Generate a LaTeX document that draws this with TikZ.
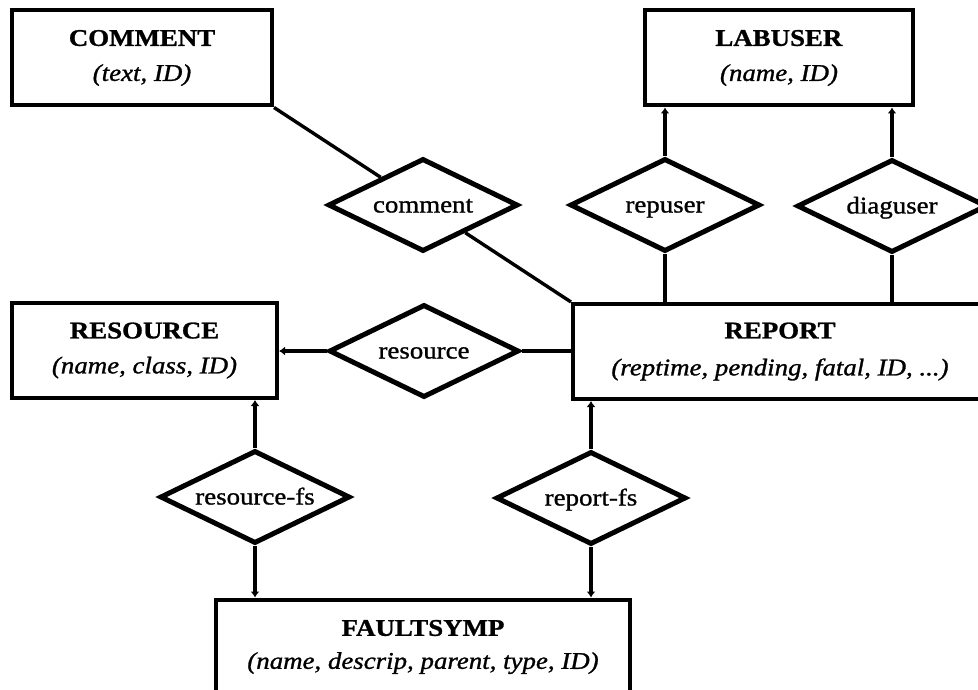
\documentclass[tikz,border=0pt]{standalone}
\usepackage{fontspec}
\setmainfont{Liberation Serif}[FakeStretch=1.12,FakeBold=1.1]
\usepackage{tikz}
\usetikzlibrary{shapes.geometric,arrows.meta}
\newcommand{\rellabel}[1]{\makebox[0pt]{#1}}

\begin{document}
\begin{tikzpicture}[x=1pt,y=-1pt,font=\fontsize{24}{29}\selectfont,
  entity/.style={draw,line width=4pt,rectangle,minimum height=95pt,align=center,inner sep=0pt},
  rel/.style={draw,line width=5pt,diamond,minimum width=190pt,minimum height=93pt,inner sep=0pt,
    text height=18pt,text depth=3pt},
  link/.style={line width=3.4pt},
  arr/.style={line width=3.4pt,-{Latex[length=6pt,width=9pt]}}]
  \useasboundingbox (0,0) rectangle (978,690);
  \clip (0,0) rectangle (978,690);
  \node[entity,minimum width=260pt] (cmt) at (142,58) {\textbf{COMMENT}\\[6pt]\textit{(text, ID)}};
  \node[entity,minimum width=268pt] (labuser) at (779,58) {\textbf{LABUSER}\\[6pt]\textit{(name, ID)}};
  \node[entity,minimum width=265pt] (resrc) at (144.5,350.5) {\textbf{RESOURCE}\\[6pt]\textit{(name, class, ID)}};
  \node[entity,minimum width=414pt] (report) at (780,351.5) {\textbf{REPORT}\\[8pt]\textit{(reptime, pending, fatal, ID, ...)}};
  \node[entity,minimum width=414pt] (fault) at (423,647) {\textbf{FAULTSYMP}\\[4pt]\textit{(name, descrip, parent, type, ID)}};
  \node[rel] (cmtrel) at (423,205) {\rellabel{comment}};
  \node[rel] (repuser) at (665,205) {\rellabel{repuser}};
  \node[rel] (diaguser) at (892,206) {\rellabel{diaguser}};
  \node[rel] (resrel) at (424,351) {\rellabel{resource}};
  \node[rel] (resfs) at (255,497) {\rellabel{resource-fs}};
  \node[rel] (repfs) at (591,498) {\rellabel{report-fs}};
  \draw[link] (cmt.south east) -- (cmtrel);
  \draw[link] (cmtrel) -- (report.north west);
  \draw[arr] (repuser.north) -- (repuser.north |- labuser.south);
  \draw[link] (repuser.south) -- (repuser.south |- report.north);
  \draw[arr] (diaguser.north) -- (diaguser.north |- labuser.south);
  \draw[link] (diaguser.south) -- (diaguser.south |- report.north);
  \draw[arr] (resrel.west) -- (resrel.west -| resrc.east);
  \draw[link] (resrel.east) -- (resrel.east -| report.west);
  \draw[arr] (resfs.north) -- (resfs.north |- resrc.south);
  \draw[arr] (resfs.south) -- (resfs.south |- fault.north);
  \draw[arr] (repfs.north) -- (repfs.north |- report.south);
  \draw[arr] (repfs.south) -- (repfs.south |- fault.north);
\end{tikzpicture}
\end{document}
